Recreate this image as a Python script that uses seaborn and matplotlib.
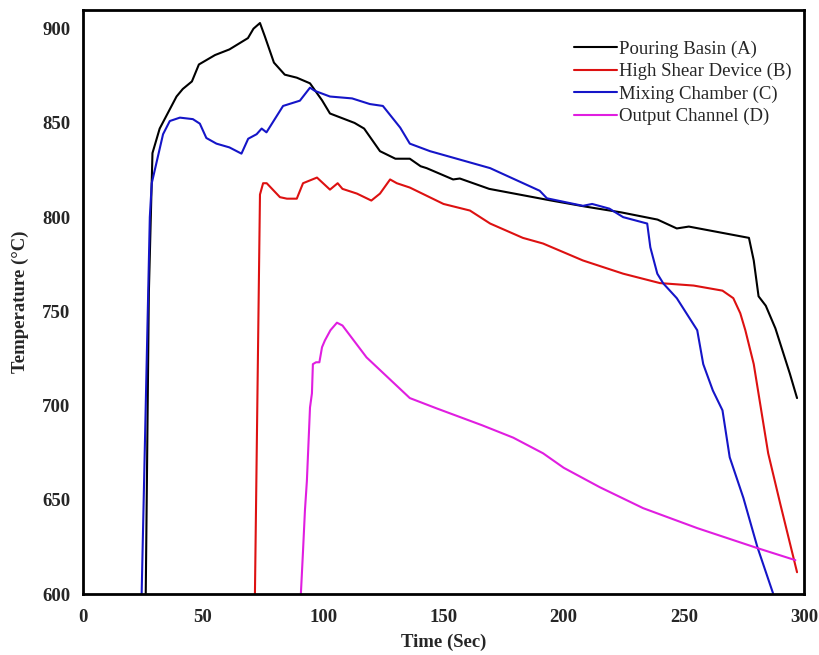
import numpy as np
import pandas as pd
import seaborn as sns
import matplotlib.pyplot as plt

sns.set_theme(style="white")
plt.rcParams['font.family'] = ['Liberation Serif', 'DejaVu Serif']

basin_t = [26.2, 27.5, 29, 32, 39, 41.6, 45.4, 48.3, 55, 61, 68.7, 71, 73.7, 75.7, 79.5, 84, 89,
           94.5, 99.5, 102.8, 113, 117, 123.6, 130, 136, 140.5, 143, 154, 156.8, 169, 194, 209,
           224, 239, 247, 252, 277, 279, 281, 284, 288, 294, 297]
basin_T = [600, 760, 834, 847, 864, 868, 872, 881, 886, 889, 895, 900, 903, 896, 882, 875.6, 874,
           871, 862, 855, 850, 847, 835, 831, 831, 827, 826, 820, 820.5, 815, 809, 805.6,
           802.5, 798.7, 794, 795, 789, 777, 758, 753, 741, 717, 704]

shear_t = [71.6, 73.7, 75, 76.5, 82, 84.9, 89, 91.6, 97.4, 102.8, 106, 108, 114, 120, 123.6,
           127.8, 130.6, 136, 150, 161, 169.4, 183, 191.4, 208, 224.7, 240, 254, 266, 270.5,
           273.4, 275.5, 279, 285, 290, 297]
shear_T = [600, 812, 818, 818, 810.6, 809.8, 809.8, 818, 821, 814.6, 818, 815, 812.5, 808.8,
           812.5, 820, 818, 815.7, 807, 803.5, 796.6, 789, 786, 777, 770, 765, 763.7, 761, 757,
           749, 740, 722, 674.7, 648, 611.6]

mixing_t = [24.5, 27.9, 28.7, 33.4, 36.2, 40.4, 45.8, 48.7, 51.4, 55.6, 61, 66, 68.8, 72.3,
            74.4, 76.4, 83.3, 90.3, 94.5, 96.5, 102.8, 112, 119.4, 124.8, 132, 136, 144.4,
            169.4, 173.5, 190, 193, 208, 211.8, 219, 224.7, 234.7, 236, 238.9, 241.4, 247,
            255.5, 258, 262, 266, 269, 274.7, 280.5, 287]
mixing_T = [600, 800, 818, 844, 851, 852.8, 852, 849.6, 842, 839, 837, 833.7, 841.6, 844, 847,
            845, 859, 861.8, 868.7, 867, 864, 863, 860, 859, 847.5, 839, 835, 826, 823.6, 814,
            810, 806, 807, 804.5, 800, 796.6, 784, 770, 764.8, 757, 740, 722, 708, 697.5,
            672.6, 651, 625, 600.5]

output_t = [90.7, 91.6, 92.4, 93.2, 94.5, 95.3, 95.7, 97, 98.4, 99.5, 100.7, 103, 105.7, 108,
            118, 136, 147, 166, 179, 191.4, 200, 215, 233, 255.5, 280.5, 296.3]
output_T = [600, 623, 644.5, 660, 699, 706.5, 722, 723, 723, 731, 734.6, 740, 744, 742.5,
            725.6, 704, 698.6, 689.6, 683, 674.7, 667, 656.7, 645.6, 635, 624.4, 618]

names = ['Pouring Basin (A)', 'High Shear Device (B)', 'Mixing Chamber (C)', 'Output Channel (D)']
colors = ['#000000', '#dd1111', '#1515c8', '#e01ee0']

df = pd.concat([
    pd.DataFrame({'time': basin_t, 'temp': basin_T, 'loc': names[0]}),
    pd.DataFrame({'time': shear_t, 'temp': shear_T, 'loc': names[1]}),
    pd.DataFrame({'time': mixing_t, 'temp': mixing_T, 'loc': names[2]}),
    pd.DataFrame({'time': output_t, 'temp': output_T, 'loc': names[3]}),
])

fig = plt.figure(figsize=(8.19, 6.55), dpi=100)
ax = fig.add_axes([0.101, 0.093, 0.881, 0.892])
sns.lineplot(data=df, x='time', y='temp', hue='loc', hue_order=names,
             palette=dict(zip(names, colors)), estimator=None, sort=False,
             linewidth=1.5, ax=ax)

ax.set_xlim(0, 300)
ax.set_ylim(600, 910)
ax.set_xticks([0, 50, 100, 150, 200, 250, 300])
ax.set_yticks([600, 650, 700, 750, 800, 850, 900])
ax.tick_params(length=0, labelsize=13.5)
ax.tick_params(axis='y', pad=9)
ax.tick_params(axis='x', pad=11)
for lab in ax.get_xticklabels() + ax.get_yticklabels():
    lab.set_fontweight('bold')
for s in ax.spines.values():
    s.set_color('black')
    s.set_linewidth(2)

ax.set_xlabel('Time (Sec)', fontsize=13.5, fontweight='bold', labelpad=5)
ax.set_ylabel('Temperature (°C)', fontsize=13.5, fontweight='bold', labelpad=9)

leg = ax.legend(loc='upper right', frameon=False, fontsize=13.5, handlelength=2.3,
                handletextpad=0.1, labelspacing=0.28, borderaxespad=0.3,
                bbox_to_anchor=(1.0, 0.97))
for h in leg.get_lines():
    h.set_linewidth(1.5)

fig.savefig('out.png', dpi=100)
